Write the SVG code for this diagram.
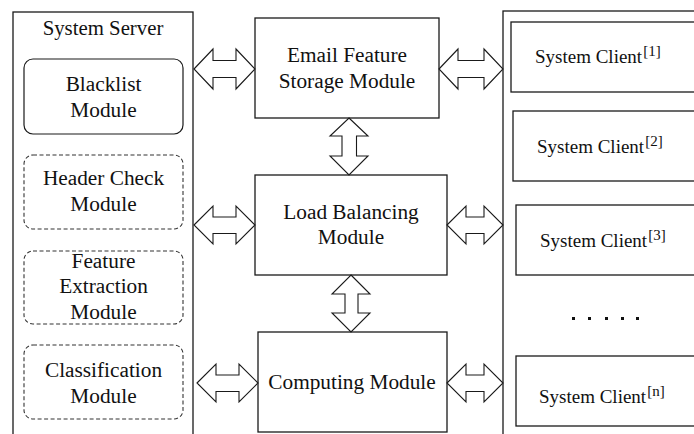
<svg xmlns="http://www.w3.org/2000/svg" width="694" height="434" viewBox="0 0 694 434">
<style>
  .box { fill: #fff; stroke: #1a1a1a; stroke-width: 1.3; }
  .rbox { fill: #fff; stroke: #1a1a1a; stroke-width: 1.2; }
  .dbox { fill: #fff; stroke: #333; stroke-width: 1.1; stroke-dasharray: 4 2.5; }
  .arr { fill: #fff; stroke: #1a1a1a; stroke-width: 1.1; stroke-linejoin: miter; }
  .t { font-family: "Liberation Serif", "Times New Roman", serif; font-size: 21.3px; fill: #111; text-anchor: middle; }
  .c { font-family: "Liberation Serif", "Times New Roman", serif; font-size: 19px; fill: #111; }
  .sup { font-size: 15px; }
</style>
<rect width="694" height="434" fill="#fff"/>

<g id="system-server">
  <rect class="box" x="13" y="12" width="180" height="440"/>
  <text class="t" x="103" y="35" style="font-size:20.8px">System Server</text>
</g>
<g id="blacklist">
  <rect class="rbox" x="24" y="59" width="159" height="75" rx="9"/>
  <text class="t" x="103.5" y="91">Blacklist</text>
  <text class="t" x="103.5" y="117">Module</text>
</g>
<g id="header-check">
  <rect class="dbox" x="24" y="155" width="159" height="74" rx="9"/>
  <text class="t" x="103.5" y="185">Header Check</text>
  <text class="t" x="103.5" y="211">Module</text>
</g>
<g id="feature-extraction">
  <rect class="dbox" x="24" y="251" width="159" height="73" rx="9"/>
  <text class="t" x="103.5" y="268">Feature</text>
  <text class="t" x="103.5" y="293">Extraction</text>
  <text class="t" x="103.5" y="319">Module</text>
</g>
<g id="classification">
  <rect class="dbox" x="24" y="345" width="159" height="74" rx="9"/>
  <text class="t" x="103.5" y="377">Classification</text>
  <text class="t" x="103.5" y="403">Module</text>
</g>

<g id="email-storage">
  <rect class="box" x="255" y="18" width="184" height="100"/>
  <text class="t" x="347" y="62">Email Feature</text>
  <text class="t" x="347" y="88">Storage Module</text>
</g>
<g id="load-balancing">
  <rect class="box" x="255" y="175" width="192" height="100"/>
  <text class="t" x="351" y="219">Load Balancing</text>
  <text class="t" x="351" y="244">Module</text>
</g>
<g id="computing">
  <rect class="box" x="258" y="332" width="189" height="100"/>
  <text class="t" x="352" y="389">Computing Module</text>
</g>

<g id="system-clients">
  <rect class="box" x="503" y="11" width="220" height="440"/>
</g>
<g id="client-1">
  <rect class="box" x="511" y="22" width="200" height="70"/>
  <text class="c" x="535" y="63">System Client<tspan class="sup" dx="1" dy="-7">[1]</tspan></text>
</g>
<g id="client-2">
  <rect class="box" x="513" y="111" width="200" height="70"/>
  <text class="c" x="537" y="153">System Client<tspan class="sup" dx="1" dy="-7">[2]</tspan></text>
</g>
<g id="client-3">
  <rect class="box" x="516" y="205" width="200" height="70"/>
  <text class="c" x="540" y="247">System Client<tspan class="sup" dx="1" dy="-7">[3]</tspan></text>
</g>
<g id="ellipsis" fill="#111">
  <rect x="572" y="317" width="3" height="3"/>
  <rect x="588" y="317" width="3" height="3"/>
  <rect x="605" y="317" width="3" height="3"/>
  <rect x="621" y="317" width="3" height="3"/>
  <rect x="636" y="317" width="3" height="3"/>
</g>
<g id="client-n">
  <rect class="box" x="516" y="356" width="200" height="70"/>
  <text class="c" x="539" y="403">System Client<tspan class="sup" dx="1" dy="-7">[n]</tspan></text>
</g>

<g id="connectors">
  <path class="arr" d="M194,69 L213,49 L213,60.5 L236,60.5 L236,49 L255,69 L236,89 L236,77.5 L213,77.5 L213,89 Z"/>
  <path class="arr" d="M194,225 L213,206 L213,217 L236,217 L236,206 L255,225 L236,244 L236,233.5 L213,233.5 L213,244 Z"/>
  <path class="arr" d="M197,383 L216,364 L216,375 L239,375 L239,364 L258,383 L239,402 L239,391.5 L216,391.5 L216,402 Z"/>
  <path class="arr" d="M439,69 L458,49 L458,60.5 L484,60.5 L484,49 L503,69 L484,89 L484,77.5 L458,77.5 L458,89 Z"/>
  <path class="arr" d="M447,225 L466,206 L466,217 L484,217 L484,206 L503,225 L484,244 L484,233.5 L466,233.5 L466,244 Z"/>
  <path class="arr" d="M447,383 L466,364 L466,375 L484,375 L484,364 L503,383 L484,402 L484,391.5 L466,391.5 L466,402 Z"/>
  <path class="arr" d="M349,118 L368,136 L356.5,136 L356.5,156 L368,156 L349,175 L330,156 L342,156 L342,136 L330,136 Z"/>
  <path class="arr" d="M351,275 L370,294 L358,294 L358,313 L370,313 L351,332 L332,313 L345,313 L345,294 L332,294 Z"/>
</g>
</svg>
